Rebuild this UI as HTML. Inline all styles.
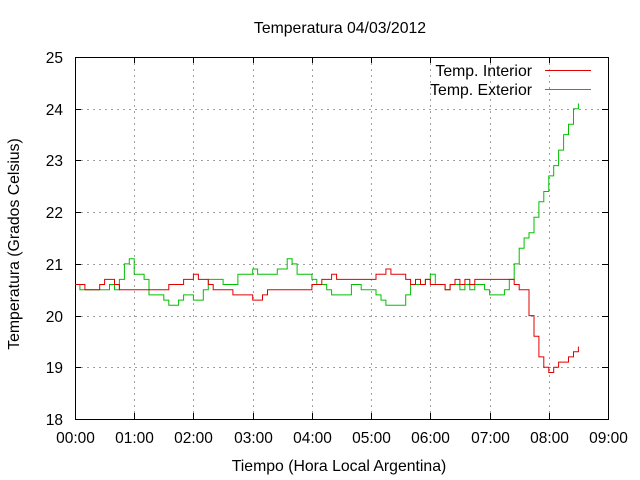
<!DOCTYPE html>
<html><head><meta charset="utf-8"><style>
body{margin:0;background:#fff;}
svg{display:block;font-family:"Liberation Sans",sans-serif;}
</style></head><body>
<svg id="chart" width="640" height="480">
<g id="grid"></g>
<g id="axes"></g>
<g id="series"></g>
<text x="340" y="33" text-anchor="middle" font-size="15.8">Temperatura 04/03/2012</text>
<text x="339" y="471" text-anchor="middle" font-size="15.8">Tiempo (Hora Local Argentina)</text>
<text transform="translate(19,244) rotate(-90)" text-anchor="middle" font-size="15.8">Temperatura (Grados Celsius)</text>
<g>
<text x="532" y="76" text-anchor="end" font-size="15.8">Temp. Interior</text>
<line x1="545" y1="70.5" x2="591" y2="70.5" stroke="#e00000"/>
<text x="532" y="95" text-anchor="end" font-size="15.8">Temp. Exterior</text>
<line x1="545" y1="89.5" x2="591" y2="89.5" stroke="#00c000"/>
</g>
</svg>
<script>
const xTickLabels=["00:00","01:00","02:00","03:00","04:00","05:00","06:00","07:00","08:00","09:00"];
const yTickLabels=[18,19,20,21,22,23,24,25];
const interiorTemps=[20.6,20.6,20.5,20.5,20.5,20.6,20.7,20.7,20.6,20.5,20.5,20.5,20.5,20.5,20.5,20.5,20.5,20.5,20.5,20.6,20.6,20.6,20.7,20.7,20.8,20.7,20.7,20.6,20.5,20.5,20.5,20.5,20.4,20.4,20.4,20.4,20.3,20.3,20.4,20.5,20.5,20.5,20.5,20.5,20.5,20.5,20.5,20.5,20.6,20.6,20.7,20.7,20.8,20.7,20.7,20.7,20.7,20.7,20.7,20.7,20.7,20.8,20.8,20.9,20.8,20.8,20.8,20.7,20.6,20.7,20.6,20.7,20.6,20.6,20.6,20.5,20.6,20.7,20.6,20.7,20.6,20.7,20.7,20.7,20.7,20.7,20.7,20.7,20.7,20.6,20.5,20.5,20.0,19.6,19.2,19.0,18.9,19.0,19.1,19.1,19.2,19.3,19.4];
const exteriorTemps=[20.6,20.5,20.5,20.5,20.5,20.5,20.5,20.6,20.5,20.7,21.0,21.1,20.8,20.8,20.7,20.4,20.4,20.4,20.3,20.2,20.2,20.3,20.4,20.4,20.3,20.3,20.5,20.7,20.7,20.7,20.6,20.6,20.6,20.8,20.8,20.8,20.9,20.8,20.8,20.8,20.8,20.9,20.9,21.1,21.0,20.8,20.8,20.8,20.7,20.6,20.6,20.5,20.4,20.4,20.4,20.4,20.6,20.6,20.5,20.5,20.5,20.4,20.3,20.2,20.2,20.2,20.2,20.4,20.6,20.6,20.6,20.7,20.8,20.6,20.6,20.5,20.6,20.6,20.5,20.6,20.5,20.6,20.6,20.5,20.4,20.4,20.4,20.5,20.7,21.0,21.3,21.5,21.6,21.9,22.2,22.4,22.7,22.9,23.2,23.5,23.7,24.0,24.1];
const sampleMinutes=5;
const NS="http://www.w3.org/2000/svg";
const L=75,R=608,T=57,B=419;
function xs(min){return L+(R-L)*min/540;}
function ys(v){return B-(B-T)*(v-18)/7;}
function mk(tag,attrs,parent){const e=document.createElementNS(NS,tag);for(const k in attrs)e.setAttribute(k,attrs[k]);parent.appendChild(e);return e;}
const grid=document.getElementById('grid'),axes=document.getElementById('axes'),series=document.getElementById('series');
xTickLabels.forEach((lab,i)=>{
  const x=Math.round(xs(i*60))+0.5;
  if(i>0&&i<xTickLabels.length-1){const g=mk('line',{x1:x,y1:T,x2:x,y2:B,stroke:'#a0a0a0','stroke-dasharray':'2,4'},grid);
  
  }
  const t1=mk('line',{x1:x,y1:B,x2:x,y2:B-6,stroke:'#000'},axes);
  
  
  const t2=mk('line',{x1:x,y1:T,x2:x,y2:T+6,stroke:'#000'},axes);
  
  
  const tx=mk('text',{x:x,y:443,'text-anchor':'middle','font-size':15.5},axes);tx.textContent=lab;
  
  
});
yTickLabels.forEach((v,i)=>{
  const y=Math.round(ys(v))+0.5;
  if(i>0&&i<yTickLabels.length-1){const g=mk('line',{x1:L,y1:y,x2:R,y2:y,stroke:'#a0a0a0','stroke-dasharray':'2,4'},grid);
  
  }
  const t1=mk('line',{x1:L,y1:y,x2:L+6,y2:y,stroke:'#000'},axes);
  
  
  const t2=mk('line',{x1:R,y1:y,x2:R-6,y2:y,stroke:'#000'},axes);
  
  
  const tx=mk('text',{x:63,y:y+5.5,'text-anchor':'end','font-size':15.5},axes);tx.textContent=v;
  
  
});
const frame=mk('rect',{x:L+0.5,y:T+0.5,width:R-L,height:B-T,fill:'none',stroke:'#000'},axes);


function draw(vals,color,name){
  const pts=[];
  vals.forEach((v,i)=>{
    const x=xs(i*sampleMinutes),y=ys(v);
    if(i>0)pts.push(x.toFixed(1)+','+ys(vals[i-1]).toFixed(1));
    pts.push(x.toFixed(1)+','+y.toFixed(1));
  });
  const p=mk('polyline',{points:pts.join(' '),fill:'none',stroke:color,'stroke-width':1},series);
  
  
}
draw(exteriorTemps,'#00c000','exterior-temp-line');
draw(interiorTemps,'#e00000','interior-temp-line');
</script>
</body></html>
